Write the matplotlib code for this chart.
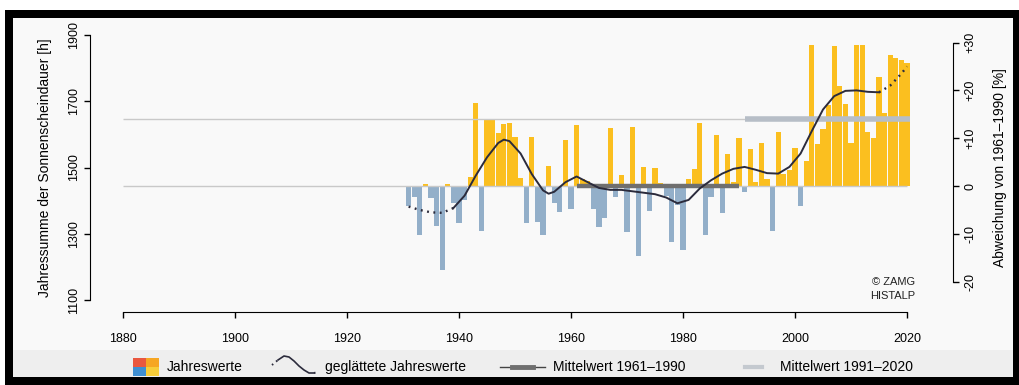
import numpy as np
import matplotlib.pyplot as plt
from matplotlib.patches import Rectangle
from matplotlib.lines import Line2D

plt.rcParams['font.family'] = ['Liberation Sans', 'DejaVu Sans']

# ── data ────────────────────────────────────────────────────────────────
years = list(range(1931, 2021))
# deviation from the 1961-1990 mean in percent
dev_pct = [
    -4.2, -2.2, -10.3, 0.5, -2.5, -8.3, -17.5, 0.5, -3.5, -7.7,      # 1931-1940
    -2.9, 1.9, 17.3, -9.4, 14.0, 14.0, 11.0, 13.0, 13.2, 10.3,       # 1941-1950
    1.6, -7.7, 10.2, -7.6, -10.3, 4.1, -3.5, -5.4, 9.7, -4.9,        # 1951-1960
    12.8, 1.5, 1.0, -4.9, -8.6, -6.6, 12.1, -2.2, 2.4, -9.7,         # 1961-1970
    12.3, -14.6, 3.9, -5.2, 3.8, 0.6, -2.0, -11.7, -4.0, -13.4,      # 1971-1980
    1.4, 3.6, 13.1, -10.3, -2.2, 10.6, -5.6, 6.7, 0.8, 10.0,         # 1981-1990
    -1.2, 7.7, 0.8, 9.0, 1.5, -9.3, 11.4, 2.5, 3.3, 8.0,             # 1991-2000
    -4.2, 5.3, 29.5, 8.7, 12.0, 17.0, 29.3, 21.0, 17.2, 9.1,         # 2001-2010
    29.5, 29.5, 11.4, 10.0, 22.7, 15.2, 27.4, 26.7, 26.4, 25.7,      # 2011-2020
]

smooth_years = [1931, 1933, 1935, 1937, 1939, 1941, 1943, 1945, 1947, 1948,
                1949, 1951, 1953, 1955, 1956, 1957, 1959, 1961, 1963, 1965,
                1967, 1969, 1971, 1973, 1975, 1977, 1979, 1981, 1983, 1985,
                1987, 1989, 1991, 1993, 1995, 1997, 1999, 2001, 2003, 2005,
                2007, 2009, 2011, 2013, 2015, 2017, 2019, 2020]
smooth_pct = [-4.3, -5.0, -5.5, -5.6, -4.6, -2.0, 2.2, 6.0, 9.0, 9.7,
              9.4, 6.8, 2.5, -0.9, -1.6, -1.2, 0.8, 2.0, 0.8, -0.4,
              -0.8, -0.8, -1.1, -1.4, -1.7, -2.4, -3.6, -2.9, -0.5, 1.2,
              2.6, 3.6, 4.0, 3.4, 2.7, 2.6, 4.0, 6.8, 11.5, 16.0,
              18.8, 19.9, 20.0, 19.7, 19.6, 21.0, 23.5, 25.0]

mean_6190 = 1444   # h
mean_9120 = 1645   # h

left_ticks = [1100, 1300, 1500, 1700, 1900]
right_ticks = [-20, -10, 0, 10, 20, 30]
right_labels = ["-20", "-10", "0", "+10", "+20", "+30"]
x_ticks = list(range(1880, 2021, 20))

# ── figure ──────────────────────────────────────────────────────────────
W, H = 1019, 385
fig = plt.figure(figsize=(W / 100, H / 100), dpi=100)
fig.patch.set_facecolor("white")

def fx(px):
    return px / W

def fy(py):
    return 1 - py / H

# frame and background
fig.add_artist(Rectangle((fx(5), fy(385)), fx(1019 - 5), fy(10) - fy(385),
                         transform=fig.transFigure, facecolor="black", edgecolor="none", zorder=-10))
fig.add_artist(Rectangle((fx(13), fy(377)), fx(1013 - 13), fy(18) - fy(377),
                         transform=fig.transFigure, facecolor="#f9f9f9", edgecolor="none", zorder=-9))
fig.add_artist(Rectangle((fx(13), fy(377)), fx(1013 - 13), fy(350) - fy(377),
                         transform=fig.transFigure, facecolor="#eeeeee", edgecolor="none", zorder=-9))

ax = fig.add_axes([fx(115), fy(302), fx(916 - 115), fy(33) - fy(302)])
ax.patch.set_visible(False)

px_per_year = 5.6
hpx = 265 / 800
ax.set_xlim(1880 - 8 / px_per_year, 1880 + (916 - 123) / px_per_year)
ax.set_ylim(1100 - 2 / hpx, 1100 + 267 / hpx)

hours = np.array([mean_6190 * (1 + p / 100) for p in dev_pct])
colors = ["#fbbf1f" if h >= mean_6190 else "#93afc9" for h in hours]
ax.bar(years, hours - mean_6190, bottom=mean_6190, width=0.9, color=colors,
       linewidth=0, zorder=2)

# mean lines
ax.hlines(mean_6190, 1880, 2020, color="#c9c9c9", lw=1.0, zorder=3)
ax.hlines(mean_9120, 1880, 1991, color="#c9c9c9", lw=1.0, zorder=3)
ax.hlines(mean_6190, 1961, 1990, color="#6f6f6f", lw=3.2, zorder=4)
ax.hlines(mean_9120, 1991, 2020.5, color="#b7bec7", lw=4.0, zorder=4)

# smoothed curve
sy = np.array(smooth_years)
sh = np.array([mean_6190 * (1 + p / 100) for p in smooth_pct])
solid = (sy >= 1939) & (sy <= 2015)
dots = (0, (0.8, 1.9))
ax.plot(sy[solid], sh[solid], color="#2b2b3c", lw=1.4, zorder=5)
ax.plot(sy[sy <= 1939], sh[sy <= 1939], color="#2b2b3c", lw=1.7,
        linestyle=dots, zorder=5)
ax.plot(sy[sy >= 2015], sh[sy >= 2015], color="#2b2b3c", lw=1.7,
        linestyle=dots, zorder=5)

# axes styling (R-like detached axes)
for s in ["top", "right"]:
    ax.spines[s].set_visible(False)
ax.spines["left"].set_position(("outward", 18))
ax.spines["bottom"].set_position(("outward", 7.2))
ax.spines["left"].set_bounds(1100, 1900)
ax.spines["bottom"].set_bounds(1880, 2020)
ax.set_yticks(left_ticks)
ax.set_xticks(x_ticks)
ax.tick_params(axis="y", length=4, width=1, labelsize=9, pad=3, labelrotation=90)
ax.tick_params(axis="x", length=4, width=1, labelsize=9, pad=11)
for lab in ax.get_yticklabels():
    lab.set_va("center")
ax.set_ylabel("Jahressumme der Sonnenscheindauer [h]", fontsize=10, labelpad=12)

ax2 = ax.twinx()
lo, hi = ax.get_ylim()
ax2.set_ylim((lo / mean_6190 - 1) * 100, (hi / mean_6190 - 1) * 100)
for s in ["top", "left", "bottom"]:
    ax2.spines[s].set_visible(False)
ax2.spines["right"].set_position(("outward", 26.6))
ax2.spines["right"].set_bounds(-20, 30)
ax2.set_yticks(right_ticks)
ax2.set_yticklabels(right_labels)
ax2.tick_params(axis="y", length=4, width=1, labelsize=9, pad=4, labelrotation=90)
for lab in ax2.get_yticklabels():
    lab.set_va("center")
ax2.set_ylabel("Abweichung von 1961\u20131990 [%]", fontsize=10, labelpad=12)

fig.text(fx(915), fy(282), "\u00a9 ZAMG", ha="right", va="center", fontsize=8, color="#222222")
fig.text(fx(915), fy(296), "HISTALP", ha="right", va="center", fontsize=8, color="#222222")

# ── legend row ──────────────────────────────────────────────────────────
ly = 367
quad = [("#e9573f", 133, ly - 9), ("#f6a623", 146, ly - 9),
        ("#3f8fd2", 133, ly), ("#f7cd3a", 146, ly)]
for c, x0, y0 in quad:
    fig.add_artist(Rectangle((fx(x0), fy(y0 + 9)), fx(13), fy(y0) - fy(y0 + 9),
                             transform=fig.transFigure, facecolor=c, edgecolor="none"))
fig.text(fx(167), fy(ly), "Jahreswerte", ha="left", va="center", fontsize=10)

# small wave icon (legend glyph, not data)
icon_x = [272, 278, 284, 289, 294, 299, 304, 309, 314, 318]
icon_y = [365, 360, 356, 357, 361, 366, 370, 373, 373, 372]
fig.add_artist(Line2D(fx(np.array(icon_x[1:-1])), fy(np.array(icon_y[1:-1])),
                      transform=fig.transFigure, color="#2b2b3c", lw=1.2))
fig.add_artist(Line2D(fx(np.array(icon_x[:2])), fy(np.array(icon_y[:2])), transform=fig.transFigure,
                      color="#2b2b3c", lw=1.4, linestyle=dots))
fig.add_artist(Line2D(fx(np.array(icon_x[-2:])), fy(np.array(icon_y[-2:])), transform=fig.transFigure,
                      color="#2b2b3c", lw=1.4, linestyle=dots))
fig.text(fx(325), fy(ly), "gegl\u00e4ttete Jahreswerte", ha="left", va="center", fontsize=10)

fig.add_artist(Line2D([fx(500), fx(545)], [fy(ly), fy(ly)], transform=fig.transFigure,
                      color="#444444", lw=1.0))
fig.add_artist(Line2D([fx(512), fx(533)], [fy(ly), fy(ly)], transform=fig.transFigure,
                      color="#6f6f6f", lw=3.5))
fig.text(fx(553), fy(ly), "Mittelwert 1961\u20131990", ha="left", va="center", fontsize=10)

fig.add_artist(Line2D([fx(745), fx(762)], [fy(ly), fy(ly)], transform=fig.transFigure,
                      color="#c4c9cf", lw=3.0))
fig.text(fx(780), fy(ly), "Mittelwert 1991\u20132020", ha="left", va="center", fontsize=10)

fig.savefig("out.png", dpi=100, facecolor=fig.get_facecolor())
